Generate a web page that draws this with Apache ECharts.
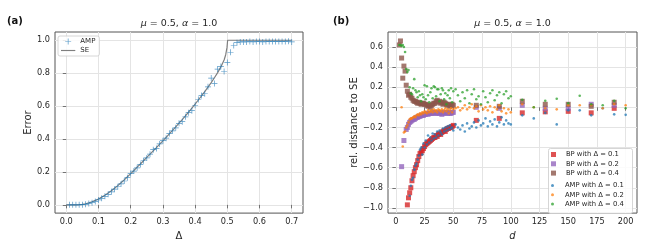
<!DOCTYPE html>
<html><head><meta charset="utf-8">
<script src="https://cdn.jsdelivr.net/npm/echarts@6/dist/echarts.min.js"></script>
<style>html,body{margin:0;padding:0;background:#fff}#c{width:670px;height:246px}</style>
</head><body><div id="c"></div>
<script>
// ---------- Panel (a) ----------
const ampDelta = [0.01,0.02,0.03,0.04,0.05,0.06,0.07,0.08,0.09,0.10,0.11,0.12,0.13,0.14,0.15,0.16,0.17,0.18,0.19,0.20,0.21,0.22,0.23,0.24,0.25,0.26,0.27,0.28,0.29,0.30,0.31,0.32,0.33,0.34,0.35,0.36,0.37,0.38,0.39,0.40,0.41,0.42,0.43,0.44,0.45,0.46,0.47,0.48,0.49,0.50,0.51,0.52,0.53,0.54,0.55,0.56,0.57,0.58,0.59,0.60,0.61,0.62,0.63,0.64,0.65,0.66,0.67,0.68,0.69,0.70];
const ampError = [0.0,0.0,0.0,0.0,0.001,0.003,0.008,0.013,0.02,0.03,0.04,0.052,0.064,0.079,0.095,0.11,0.127,0.145,0.165,0.19,0.205,0.225,0.245,0.268,0.285,0.308,0.335,0.343,0.37,0.39,0.405,0.433,0.45,0.468,0.495,0.505,0.535,0.56,0.572,0.605,0.64,0.665,0.675,0.717,0.77,0.737,0.825,0.84,0.81,0.865,0.927,0.968,0.985,0.99,0.99,0.99,0.992,0.99,0.992,0.992,0.99,0.993,0.992,0.993,0.992,0.993,0.993,0.993,0.994,0.99];
const seDelta = [0,0.01,0.02,0.03,0.04,0.05,0.06,0.07,0.08,0.09,0.10,0.11,0.12,0.13,0.14,0.15,0.16,0.17,0.18,0.19,0.20,0.21,0.22,0.23,0.24,0.25,0.26,0.27,0.28,0.29,0.30,0.31,0.32,0.33,0.34,0.35,0.36,0.37,0.38,0.39,0.40,0.41,0.42,0.43,0.44,0.45,0.46,0.47,0.48,0.49,0.495,0.499,0.501,0.55,0.60,0.65,0.70];
const seError = [0,0,0,0,0.001,0.003,0.007,0.012,0.019,0.027,0.036,0.047,0.059,0.072,0.086,0.101,0.117,0.134,0.152,0.171,0.19,0.209,0.229,0.248,0.268,0.288,0.308,0.328,0.348,0.369,0.389,0.41,0.431,0.452,0.474,0.496,0.518,0.541,0.564,0.588,0.612,0.637,0.662,0.688,0.715,0.743,0.772,0.803,0.838,0.88,0.912,0.955,1.0,1.0,1.0,1.0,1.0];
const aXTicks = [0,0.1,0.2,0.3,0.4,0.5,0.6,0.7];
const aYTicks = [0,0.2,0.4,0.6,0.8,1.0];

// ---------- Panel (b) ----------
const dBP01 = [10,11,12,13,14,15,16,17,18,19,20,21,22,23,24,25,26,27,28,29,30,31,32,33,34,35,36,37,38,39,40,41,42,43,44,45,46,47,48,49,50,70,90,110,130,150,170,190];
const bp01 = [-0.97,-0.90,-0.85,-0.80,-0.73,-0.68,-0.64,-0.60,-0.57,-0.53,-0.49,-0.46,-0.45,-0.43,-0.41,-0.39,-0.37,-0.36,-0.35,-0.34,-0.33,-0.32,-0.31,-0.30,-0.30,-0.28,-0.29,-0.27,-0.26,-0.27,-0.25,-0.24,-0.23,-0.24,-0.22,-0.21,-0.21,-0.20,-0.20,-0.19,-0.18,-0.13,-0.11,-0.055,-0.045,-0.04,-0.055,-0.01];
const dBP02 = [5,7,9,10,11,12,13,14,15,16,17,18,19,20,21,22,23,24,25,26,27,28,29,30,31,32,33,34,35,36,37,38,39,40,41,42,43,44,45,46,47,48,49,50,70,90,110,130,150,170,190];
const bp02 = [-0.59,-0.33,-0.22,-0.20,-0.17,-0.15,-0.14,-0.13,-0.12,-0.12,-0.11,-0.10,-0.10,-0.09,-0.09,-0.08,-0.08,-0.08,-0.07,-0.07,-0.06,-0.07,-0.06,-0.06,-0.06,-0.05,-0.06,-0.05,-0.06,-0.05,-0.06,-0.06,-0.05,-0.07,-0.06,-0.05,-0.06,-0.05,-0.06,-0.05,-0.06,-0.06,-0.05,-0.05,0.0,-0.01,0.02,-0.01,-0.01,0.03,0.02];
const dBP04 = [3,4,5,6,7,8,9,10,11,12,13,14,15,16,17,18,19,20,21,22,23,24,25,26,27,28,29,30,31,32,33,34,35,36,37,38,39,40,41,42,43,44,45,46,47,48,49,50,70,90,110,130,150,170,190];
const bp04 = [0.62,0.66,0.49,0.29,0.41,0.36,0.22,0.16,0.12,0.13,0.10,0.09,0.07,0.06,0.06,0.05,0.04,0.05,0.04,0.03,0.04,0.04,0.03,0.03,0.02,0.01,0.02,0.0,0.02,0.03,0.04,0.04,0.06,0.07,0.05,0.06,0.04,0.05,0.03,0.05,0.04,0.03,0.02,0.03,0.01,0.02,0.03,0.02,0.02,0.01,0.06,0.03,0.03,0.01,0.05];
const dAMP01 = [12,13,14,15,16,17,18,19,20,21,22,23,24,25,26,27,28,29,30,31,32,33,34,35,36,37,38,39,40,41,42,43,44,45,46,47,48,49,50,52,54,56,58,60,62,64,66,68,70,72,74,76,78,80,82,84,86,88,90,92,94,96,98,100,110,120,130,140,150,160,170,180,190,200];
const amp01 = [-0.88,-0.78,-0.72,-0.70,-0.62,-0.58,-0.56,-0.52,-0.48,-0.42,-0.40,-0.47,-0.36,-0.40,-0.33,-0.37,-0.28,-0.35,-0.30,-0.33,-0.26,-0.31,-0.27,-0.30,-0.24,-0.28,-0.23,-0.25,-0.27,-0.21,-0.24,-0.20,-0.23,-0.19,-0.22,-0.18,-0.21,-0.20,-0.23,-0.17,-0.20,-0.22,-0.18,-0.24,-0.16,-0.21,-0.19,-0.15,-0.20,-0.13,-0.18,-0.16,-0.11,-0.19,-0.14,-0.17,-0.12,-0.19,-0.15,-0.10,-0.17,-0.13,-0.16,-0.17,-0.08,-0.11,-0.055,-0.17,-0.03,-0.03,-0.08,-0.01,-0.07,-0.075];
const dAMP02 = [5,6,7,8,9,10,11,12,13,14,15,16,17,18,19,20,21,22,23,24,25,26,27,28,29,30,31,32,33,34,35,36,37,38,39,40,41,42,43,44,45,46,47,48,49,50,52,54,56,58,60,62,64,66,68,70,72,74,76,78,80,82,84,86,88,90,92,94,96,98,100,110,120,130,140,150,160,170,180,190,200];
const amp02 = [0.0,-0.39,-0.25,-0.24,-0.20,-0.18,-0.15,-0.12,-0.11,-0.11,-0.10,-0.09,-0.10,-0.08,-0.07,-0.08,-0.06,-0.07,-0.05,-0.06,-0.04,-0.05,-0.06,-0.03,-0.05,-0.04,-0.03,-0.05,-0.02,-0.04,-0.03,-0.05,-0.02,-0.03,-0.04,-0.02,-0.05,-0.03,-0.01,-0.04,-0.02,-0.06,-0.03,-0.01,-0.05,-0.02,-0.01,0.0,-0.03,-0.01,0.02,-0.02,0.0,0.03,-0.01,0.01,-0.04,0.02,-0.02,0.0,-0.03,0.01,-0.05,0.0,-0.02,0.02,-0.04,-0.01,-0.06,-0.02,-0.05,0.03,0.0,-0.01,-0.02,0.02,0.02,0.02,-0.01,0.03,0.02];
const dAMP04 = [3,4,5,6,7,8,9,10,11,12,13,14,15,16,17,18,19,20,21,22,23,24,25,26,27,28,29,30,31,32,33,34,35,36,37,38,39,40,41,42,43,44,45,46,47,48,49,50,52,54,56,58,60,62,64,66,68,70,72,74,76,78,80,82,84,86,88,90,92,94,96,98,100,110,120,130,140,150,160,170,180,190,200];
const amp04 = [0.62,0.62,0.61,0.62,0.60,0.55,0.38,0.35,0.37,0.20,0.14,0.13,0.19,0.28,0.17,0.15,0.10,0.16,0.12,0.06,0.13,0.10,0.22,0.08,0.21,0.12,0.05,0.15,0.19,0.09,0.21,0.20,0.11,0.18,0.18,0.06,0.13,0.19,0.17,0.08,0.14,0.03,0.12,0.17,0.09,0.19,0.05,0.16,0.18,0.12,0.06,0.15,0.09,0.17,0.04,0.13,0.18,0.08,0.11,0.03,0.16,0.10,0.05,0.14,0.17,0.07,0.12,0.15,0.04,0.13,0.16,0.09,0.11,0.075,0.0,0.065,0.085,0.04,0.115,0.03,0.02,0.065,-0.01];
const bXTicks = [0,25,50,75,100,125,150,175,200];
const bYTicks = [-1.0,-0.8,-0.6,-0.4,-0.2,0.0,0.2,0.4,0.6];

const zip = (xs, ys) => xs.map((x, i) => [x, ys[i]]);
const FONT = 'DejaVu Sans';
const TXT = '#262626';
const SPINE = '#555555';
const GRIDC = '#e4e4e4';
const fmt1 = v => (v < 0 ? '\u2212' + Math.abs(v).toFixed(1) : v.toFixed(1));
const plus = 'path://M4.4,0 H5.6 V4.4 H10 V5.6 H5.6 V10 H4.4 V5.6 H0 V4.4 H4.4 Z';
const sq = 'path://M0,0 H10 V10 H0 Z';
const hline = 'path://M0,0 H20 V1.6 H0 Z';

function xAx(grid, min, max, ticks, f, name, italic, gap) {
  return { type: 'value', gridIndex: grid, min, max,
    axisLine: { show: false },
    axisTick: { show: true, length: 3.5, customValues: ticks, lineStyle: { color: SPINE, width: 0.8 } },
    axisLabel: { customValues: ticks, formatter: f, fontFamily: FONT, fontSize: 8.2, color: TXT, margin: 5 },
    splitLine: { show: false },
    name, nameLocation: 'middle', nameGap: gap,
    nameTextStyle: { fontFamily: FONT, fontSize: 10, color: TXT, fontStyle: italic ? 'italic' : 'normal' } };
}
function yAx(grid, min, max, ticks, f, name, gap) {
  return { type: 'value', gridIndex: grid, min, max,
    axisLine: { show: false },
    axisTick: { show: true, length: 3.5, customValues: ticks, lineStyle: { color: SPINE, width: 0.8 } },
    axisLabel: { customValues: ticks, formatter: f, fontFamily: FONT, fontSize: 8.2, color: TXT, margin: 5 },
    splitLine: { show: false },
    name, nameLocation: 'middle', nameGap: gap,
    nameTextStyle: { fontFamily: FONT, fontSize: 10, color: TXT } };
}
function gridLines(idx, xt, yt) {
  return { name: '__grid' + idx, type: 'line', xAxisIndex: idx, yAxisIndex: idx, data: [], z: 0, silent: true,
    markLine: { silent: true, z: 0, symbol: ['none', 'none'], label: { show: false }, animation: false,
      emphasis: { disabled: true },
      lineStyle: { color: GRIDC, width: 1, type: 'solid' },
      data: xt.map(v => ({ xAxis: v })).concat(yt.map(v => ({ yAxis: v }))) } };
}

const chart = echarts.init(document.getElementById('c'), null, { renderer: 'canvas' });
const titleStyle = { fontFamily: FONT, fontSize: 9.5, fontWeight: 'normal', color: TXT,
  rich: { i: { fontFamily: FONT, fontSize: 9.5, fontStyle: 'italic', color: TXT } } };
chart.setOption({
  animation: false,
  backgroundColor: '#ffffff',
  title: [
    { text: '(a)', left: 7, top: 16, padding: 0, textStyle: { fontFamily: FONT, fontSize: 10, fontWeight: 'bold', color: '#111' } },
    { text: '(b)', left: 333, top: 16, padding: 0, textStyle: { fontFamily: FONT, fontSize: 10, fontWeight: 'bold', color: '#111' } },
    { text: '{i|\u03bc} = 0.5, {i|\u03b1} = 1.0', left: 179, top: 19, padding: 0, textAlign: 'center', textStyle: titleStyle },
    { text: '{i|\u03bc} = 0.5, {i|\u03b1} = 1.0', left: 512.5, top: 19, padding: 0, textAlign: 'center', textStyle: titleStyle }
  ],
  grid: [
    { left: 55, top: 32, width: 248, height: 185, show: true, borderColor: SPINE, borderWidth: 1, backgroundColor: 'transparent' },
    { left: 388, top: 32, width: 249, height: 185, show: true, borderColor: SPINE, borderWidth: 1, backgroundColor: 'transparent' }
  ],
  xAxis: [
    xAx(0, -0.035, 0.735, aXTicks, v => v.toFixed(1), '\u0394', false, 15),
    xAx(1, -6.85, 209.85, bXTicks, v => String(Math.round(v)), 'd', true, 15)
  ],
  yAxis: [
    yAx(0, -0.05, 1.05, aYTicks, fmt1, 'Error', 22),
    yAx(1, -1.052, 0.749, bYTicks, fmt1, 'rel. distance to SE', 26)
  ],
  legend: [
    { data: [{ name: 'AMP', icon: plus }, { name: 'SE', icon: hline }], orient: 'vertical', left: 58, top: 36, padding: [2, 4, 2, 3], itemGap: 2,
      itemWidth: 14.3, itemHeight: 6, borderColor: '#cccccc', borderWidth: 0.8, borderRadius: 2, z: 10,
      backgroundColor: 'rgba(255,255,255,0.85)', textStyle: { fontFamily: FONT, fontSize: 7, color: TXT } },
    { data: [{ name: 'BP with \u0394 = 0.1', icon: sq }, { name: 'BP with \u0394 = 0.2', icon: sq }, { name: 'BP with \u0394 = 0.4', icon: sq }],
      orient: 'vertical', left: 551, top: 151, padding: 0, itemGap: 2.3, itemWidth: 14.8, itemHeight: 5, z: 10,
      textStyle: { fontFamily: FONT, fontSize: 6.8, color: TXT } },
    { data: [{ name: 'AMP with \u0394 = 0.1', icon: 'circle' }, { name: 'AMP with \u0394 = 0.2', icon: 'circle' }, { name: 'AMP with \u0394 = 0.4', icon: 'circle' }],
      orient: 'vertical', left: 551, top: 182, padding: 0, itemGap: 2.3, itemWidth: 14.8, itemHeight: 3, z: 10,
      textStyle: { fontFamily: FONT, fontSize: 6.8, color: TXT } }
  ],
  graphic: [
    { type: 'rect', z: 5, shape: { x: 548.5, y: 148.5, width: 84, height: 65, r: 2 },
      style: { fill: 'rgba(255,255,255,0.85)', stroke: '#cccccc', lineWidth: 0.8 } }
  ],
  series: [
    gridLines(0, aXTicks, aYTicks),
    gridLines(1, bXTicks, bYTicks),
    { name: 'SE', type: 'line', xAxisIndex: 0, yAxisIndex: 0, data: zip(seDelta, seError), showSymbol: false, symbol: 'none',
      lineStyle: { color: '#7f7f7f', width: 1.2 }, itemStyle: { color: '#7f7f7f' }, z: 2 },
    { name: 'AMP', type: 'scatter', xAxisIndex: 0, yAxisIndex: 0, data: zip(ampDelta, ampError), symbol: plus, symbolSize: 6,
      itemStyle: { color: '#1f77b4', opacity: 0.75 }, z: 3 },
    { name: 'BP with \u0394 = 0.1', type: 'scatter', xAxisIndex: 1, yAxisIndex: 1, data: zip(dBP01, bp01), symbol: 'rect', symbolSize: 5, itemStyle: { color: '#d62728', opacity: 0.8 } },
    { name: 'BP with \u0394 = 0.2', type: 'scatter', xAxisIndex: 1, yAxisIndex: 1, data: zip(dBP02, bp02), symbol: 'rect', symbolSize: 5, itemStyle: { color: '#9467bd', opacity: 0.8 } },
    { name: 'BP with \u0394 = 0.4', type: 'scatter', xAxisIndex: 1, yAxisIndex: 1, data: zip(dBP04, bp04), symbol: 'rect', symbolSize: 5, itemStyle: { color: '#8c564b', opacity: 0.8 } },
    { name: 'AMP with \u0394 = 0.1', type: 'scatter', xAxisIndex: 1, yAxisIndex: 1, data: zip(dAMP01, amp01), symbol: 'circle', symbolSize: 2.6, itemStyle: { color: '#1f77b4', opacity: 0.75 } },
    { name: 'AMP with \u0394 = 0.2', type: 'scatter', xAxisIndex: 1, yAxisIndex: 1, data: zip(dAMP02, amp02), symbol: 'circle', symbolSize: 2.6, itemStyle: { color: '#ff7f0e', opacity: 0.75 } },
    { name: 'AMP with \u0394 = 0.4', type: 'scatter', xAxisIndex: 1, yAxisIndex: 1, data: zip(dAMP04, amp04), symbol: 'circle', symbolSize: 2.6, itemStyle: { color: '#2ca02c', opacity: 0.75 } }
  ]
});
</script></body></html>
